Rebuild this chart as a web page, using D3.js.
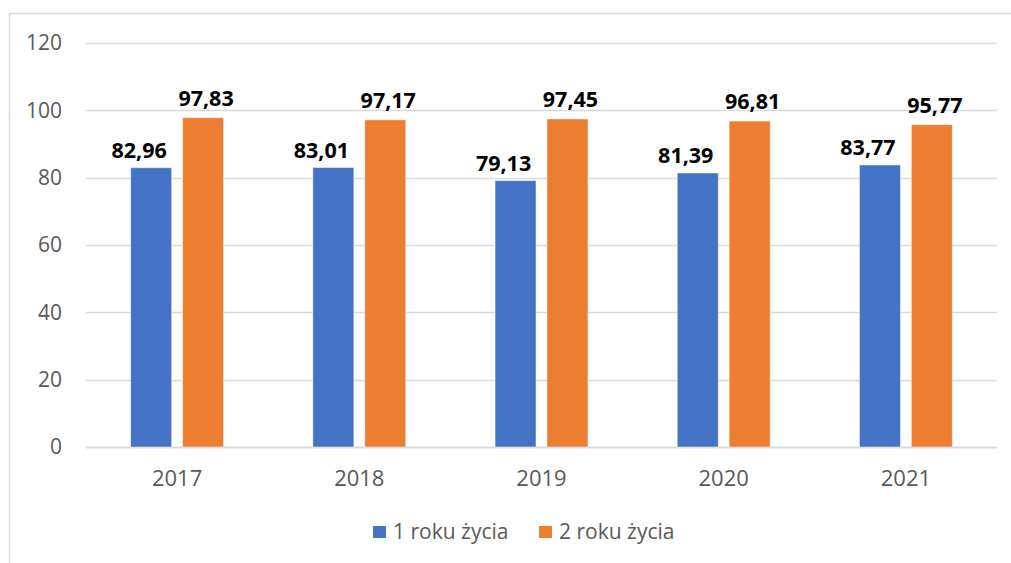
<!DOCTYPE html>
<html>
<head>
<meta charset="utf-8">
<script src="https://cdn.jsdelivr.net/npm/d3@7"></script>
<style>
  body { margin: 0; background: #fff; }
  svg { display: block; font-family: 'Open Sans', 'Noto Sans', sans-serif; }
</style>
</head>
<body>
<figure style="margin:0"></figure>
<script>
const years = ['2017', '2018', '2019', '2020', '2021']
const seriesNames = ['1 roku życia', '2 roku życia']
const firstYear = [82.96, 83.01, 79.13, 81.39, 83.77]
const secondYear = [97.83, 97.17, 97.45, 96.81, 95.77]
const yTicks = [0, 20, 40, 60, 80, 100, 120]

const colors = ['#4472C4', '#ED7D31']
const width = 1011
const height = 563
const margin = { top: 43, right: 14, bottom: 116, left: 86 }

const svg = d3.select('figure').append('svg')
  .attr('width', width)
  .attr('height', height)

// outer chart frame (only top/left visible in the shot)
svg.append('rect')
  .attr('x', 9.5).attr('y', 13.5)
  .attr('width', 1010).attr('height', 560)
  .attr('fill', 'none')
  .attr('stroke', '#d9d9d9')
  .attr('stroke-width', 1.5)

const x0 = d3.scaleBand()
  .domain(years)
  .range([margin.left, width - margin.right])
  .paddingInner(0.49)
  .paddingOuter(0.245)

const x1 = d3.scaleBand()
  .domain(seriesNames)
  .range([0, x0.bandwidth()])
  .paddingInner(0.21)

const y = d3.scaleLinear()
  .domain([0, 120])
  .range([height - margin.bottom, margin.top])

// gridlines
svg.append('g')
  .selectAll('line')
  .data(yTicks)
  .join('line')
  .attr('x1', margin.left)
  .attr('x2', width - margin.right)
  .attr('y1', d => Math.round(y(d)) + 0.5)
  .attr('y2', d => Math.round(y(d)) + 0.5)
  .attr('stroke', '#d9d9d9')
  .attr('stroke-width', d => d === 0 ? 2 : 1.3)

// y tick labels
svg.append('g')
  .selectAll('text')
  .data(yTicks)
  .join('text')
  .attr('x', margin.left - 24)
  .attr('y', d => y(d))
  .attr('dy', '0.35em')
  .attr('text-anchor', 'end')
  .attr('font-size', 21)
  .attr('fill', '#595959')
  .text(d => d)

// x labels
svg.append('g')
  .selectAll('text')
  .data(years)
  .join('text')
  .attr('x', d => x0(d) + x0.bandwidth() / 2)
  .attr('y', y(0) + 39)
  .attr('text-anchor', 'middle')
  .attr('font-size', 22)
  .attr('fill', '#595959')
  .text(d => d)

const rows = years.map((yr, i) => ({
  year: yr,
  values: [
    { name: seriesNames[0], value: firstYear[i], idx: 0 },
    { name: seriesNames[1], value: secondYear[i], idx: 1 }
  ]
}))

const groups = svg.append('g')
  .selectAll('g')
  .data(rows)
  .join('g')
  .attr('transform', d => `translate(${x0(d.year)},0)`)

groups.selectAll('rect')
  .data(d => d.values)
  .join('rect')
  .attr('x', d => x1(d.name))
  .attr('y', d => y(d.value))
  .attr('width', x1.bandwidth())
  .attr('height', d => y(0) - y(d.value))
  .attr('fill', d => colors[d.idx])
  .attr('stroke', '#fff')
  .attr('stroke-opacity', 0.5)
  .attr('stroke-width', 1)

const fmt = v => v.toFixed(2).replace('.', ',')

groups.selectAll('text')
  .data(d => d.values)
  .join('text')
  .attr('x', d => x1(d.name) + x1.bandwidth() / 2 + (d.idx === 0 ? -12 : 3))
  .attr('y', d => y(d.value) - (d.idx === 0 ? 10 : 12))
  .attr('text-anchor', 'middle')
  .attr('font-size', 21.5)
  .attr('font-weight', 'bold')
  .attr('fill', '#000')
  .text(d => fmt(d.value))

// legend
const legend = svg.append('g')
  .selectAll('g')
  .data(seriesNames)
  .join('g')
  .attr('transform', (d, i) => `translate(${373 + i * 166},526)`)

legend.append('rect')
  .attr('width', 13)
  .attr('height', 12)
  .attr('fill', (d, i) => colors[i])

legend.append('text')
  .attr('x', 20)
  .attr('y', 12.5)
  .attr('font-size', 21)
  .attr('fill', '#595959')
  .text(d => d)
</script>
</body>
</html>
